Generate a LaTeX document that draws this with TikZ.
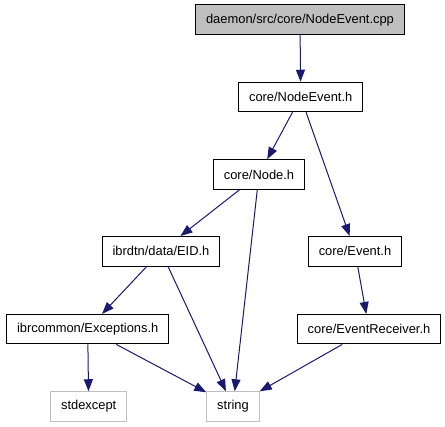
\documentclass[tikz,border=0pt]{standalone}
\usepackage{fontspec}
\setmainfont{Liberation Sans}
\usetikzlibrary{arrows.meta}
\definecolor{edgeblue}{HTML}{191970}
\definecolor{boxgray}{HTML}{BFBFBF}
\begin{document}
\begin{tikzpicture}[x=1pt, y=-1pt, every node/.style={font=\fontsize{12.9}{15}\selectfont},
  file/.style={draw=black, line width=1pt, minimum height=29.5pt, inner xsep=10.5pt},
  sysfile/.style={file, draw=boxgray},
  dep/.style={edgeblue, line width=1pt, -{Triangle[length=12pt, width=9pt]}}]
  \useasboundingbox (0,0) rectangle (445,427);
  % include graph of NodeEvent.cpp
  \node[file, fill=boxgray] (cpp) at (300,19.7) {daemon/src/core/NodeEvent.cpp};
  \node[file] (nodeevent) at (300.7,97) {core/NodeEvent.h};
  \node[file] (node) at (259,174.5) {core/Node.h};
  \node[file] (eid) at (161,251.3) {ibrdtn/data/EID.h};
  \node[file] (event) at (355,251.3) {core/Event.h};
  \node[file] (exceptions) at (87.7,329.2) {ibrcommon/Exceptions.h};
  \node[file] (receiver) at (369,329.2) {core/EventReceiver.h};
  % system headers
  \node[sysfile] (stdexcept) at (88.7,406.5) {stdexcept};
  \node[sysfile] (string) at (233,406.5) {string};
  % includes
  \draw[dep] (cpp) -- (nodeevent);
  \draw[dep] (nodeevent) -- (node);
  \draw[dep] (nodeevent) -- (event);
  \draw[dep] (node) -- (eid);
  \draw[dep] (node) -- (string);
  \draw[dep] (eid) -- (exceptions);
  \draw[dep] (eid) -- (string);
  \draw[dep] (event) -- (receiver);
  \draw[dep] (exceptions) -- (stdexcept);
  \draw[dep] (exceptions) -- (string);
  \draw[dep] (receiver) -- (string);
\end{tikzpicture}
\end{document}
